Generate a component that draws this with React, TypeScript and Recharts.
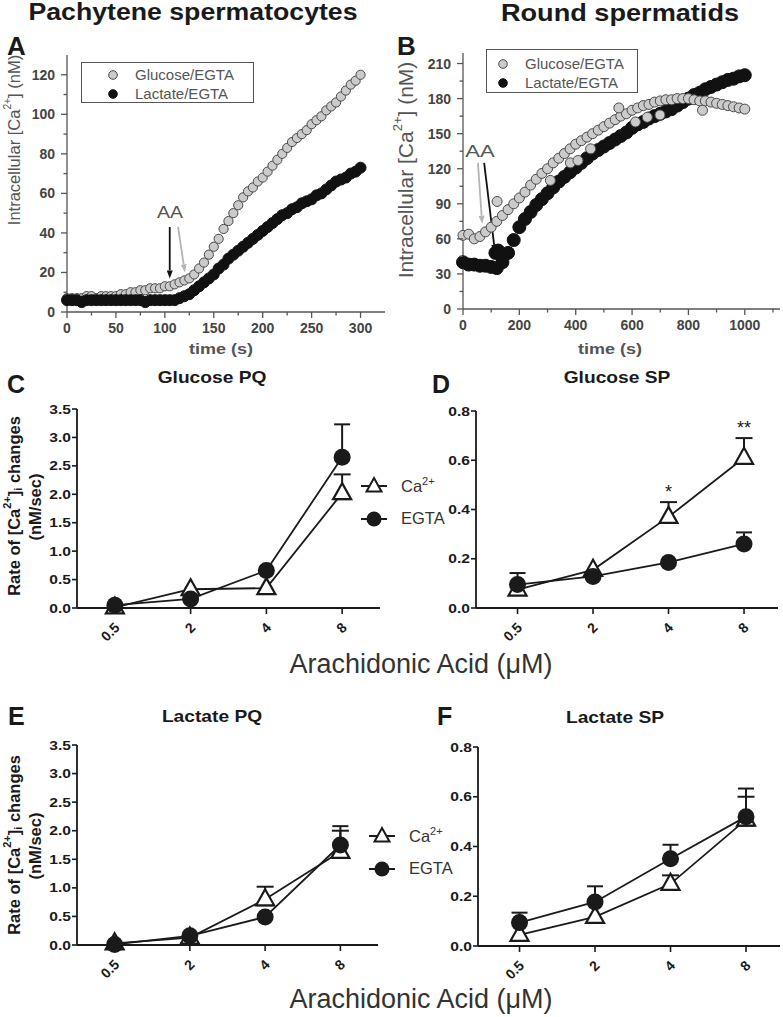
import React from 'react';
import {
  ScatterChart,
  Scatter,
  LineChart,
  Line,
  XAxis,
  YAxis,
  ErrorBar,
  ReferenceLine,
  ReferenceDot,
  Legend,
} from 'recharts';

const FONT = '"Liberation Sans", Arial, Helvetica, sans-serif';
const GRAY = '#555';
const INK = '#1a1a1a';

// ---- A: pachytene spermatocytes, [Ca2+]i time course (one reading every 5 s)
const timeA = [
  0, 5, 10, 15, 20, 25, 30, 35, 40, 45,
  50, 55, 60, 65, 70, 75, 80, 85, 90, 95,
  100, 105, 110, 115, 120, 125, 130, 135, 140, 145,
  150, 155, 160, 165, 170, 175, 180, 185, 190, 195,
  200, 205, 210, 215, 220, 225, 230, 235, 240, 245,
  250, 255, 260, 265, 270, 275, 280, 285, 290, 295,
  300,
];
const glucoseA = [
  7, 7, 7, 7, 8, 8, 7, 8, 8, 8,
  8, 9, 9, 10, 10, 11, 11, 12, 12, 12,
  13, 13, 14, 15, 16, 17, 19, 22, 25, 29,
  33, 37, 42, 46, 50, 54, 58, 61, 63, 66,
  68, 71, 74, 77, 80, 83, 86, 88, 90, 92,
  95, 97, 99, 102, 104, 106, 109, 112, 115, 117,
  120,
];
const lactateA = [
  6, 6, 6, 5, 6, 6, 6, 6, 6, 6,
  6, 6, 6, 6, 6, 6, 5, 6, 6, 6,
  6, 6, 6, 7, 8, 9, 11, 13, 15, 17,
  19, 22, 24, 27, 29, 31, 33, 35, 37, 39,
  41, 43, 45, 47, 49, 50, 52, 53, 55, 56,
  57, 59, 60, 62, 64, 66, 67, 68, 70, 71,
  73,
];
const xTicksA = [0, 25, 50, 75, 100, 125, 150, 175, 200, 225, 250, 275, 300];
const yTicksA = [0, 10, 20, 30, 40, 50, 60, 70, 80, 90, 100, 110, 120];
// AA application arrows (time s, nM)
const arrowsA = [
  { from: [105, 43], to: [105, 17], color: '#111' },
  { from: [113.5, 43], to: [120.5, 20], color: '#b5b5b5' },
];

// ---- B: round spermatids (one reading every 20 s)
const timeB = [
  0, 20, 40, 60, 80, 100, 120, 140, 160, 180,
  200, 220, 240, 260, 280, 300, 320, 340, 360, 380,
  400, 420, 440, 460, 480, 500, 520, 540, 560, 580,
  600, 620, 640, 660, 680, 700, 720, 740, 760, 780,
  800, 820, 840, 860, 880, 900, 920, 940, 960, 980,
  1000,
];
const glucoseB = [
  63, 64, 60, 62, 66, 70, 75, 80, 85, 90,
  95, 100, 106, 111, 116, 120, 125, 129, 133, 137,
  141, 144, 147, 150, 153, 156, 159, 162, 165, 167,
  170, 172, 174, 175, 177, 178, 179, 179, 180, 180,
  180, 179, 178, 178, 177, 176, 175, 174, 173, 172,
  171,
];
const lactateB = [
  40, 38, 38, 37, 37, 36, 35, 40, 48, 59,
  70, 77, 83, 89, 94, 99, 104, 109, 113, 117,
  121, 125, 129, 133, 136, 139, 142, 145, 148, 151,
  155, 158, 160, 163, 165, 167, 169, 171, 174, 177,
  180, 183, 185, 188, 190, 192, 194, 196, 197, 199,
  200,
];
const glucoseBStrayT = [121, 310, 381, 408, 453, 553, 612, 654, 699, 850];
const glucoseBStrayV = [92, 110, 125, 127, 137, 172, 160, 164, 166, 170];
const lactateBStrayT = [115, 125, 130];
const lactateBStrayV = [48, 50, 47];
const xTicksB = [0, 100, 200, 300, 400, 500, 600, 700, 800, 900, 1000, 1100];
const yTicksB = [0, 15, 30, 45, 60, 75, 90, 105, 120, 135, 150, 165, 180, 195, 210];
const arrowsB = [
  { from: [53, 125], to: [68, 73], color: '#b5b5b5' },
  { from: [75, 125], to: [114, 48], color: '#111' },
];

// ---- C–F: rate of [Ca2+]i change vs arachidonic acid dose
const doses = ['0.5', '2', '4', '8'];
const yTicksPQ = [0, 0.5, 1, 1.5, 2, 2.5, 3, 3.5];
const yTicksSP = [0, 0.2, 0.4, 0.6, 0.8];

const caGluPQ = [0.01, 0.33, 0.35, 2.02];
const caGluPQErr = [null, null, null, 0.33];
const egtaGluPQ = [0.05, 0.16, 0.66, 2.65];
const egtaGluPQErr = [null, null, null, 0.58];

const caGluSP = [0.075, 0.155, 0.37, 0.61];
const caGluSPErr = [null, null, 0.06, 0.08];
const egtaGluSP = [0.095, 0.128, 0.185, 0.26];
const egtaGluSPErr = [0.047, null, null, 0.047];
const sigGluSP = ['', '', '*', '**'];

const caLacPQ = [0.03, 0.13, 0.8, 1.63];
const caLacPQErr = [null, null, 0.22, 0.37];
const egtaLacPQ = [0.01, 0.16, 0.49, 1.75];
const egtaLacPQErr = [null, null, null, 0.33];

const caLacSP = [0.045, 0.117, 0.25, 0.508];
const caLacSPErr = [null, null, 0.034, 0.092];
const egtaLacSP = [0.094, 0.177, 0.351, 0.52];
const egtaLacSPErr = [0.04, 0.063, 0.056, 0.113];

type Err = number | null;

const markerStyle: Record<string, { fill: string; stroke: string }> = {
  'Glucose/EGTA': { fill: '#cbcbcb', stroke: '#4a4a4a' },
  'Lactate/EGTA': { fill: '#111', stroke: '#111' },
};

function timeXTick(labelEvery: number) {
  return (p: any) => {
    const v = p.payload.value;
    const major = v % labelEvery === 0;
    return (
      <g>
        <line x1={p.x} x2={p.x} y1={p.y} y2={p.y + (major ? 6 : 3.5)} stroke={GRAY} strokeWidth={1.3} />
        {major && (
          <text x={p.x} y={p.y + 21} textAnchor="middle" fontFamily={FONT} fontSize={14} fontWeight="bold" fill="#444">
            {v}
          </text>
        )}
      </g>
    );
  };
}

function timeYTick(labelEvery: number) {
  return (p: any) => {
    const v = p.payload.value;
    const major = v % labelEvery === 0;
    return (
      <g>
        <line x1={p.x - (major ? 6 : 3.5)} x2={p.x} y1={p.y} y2={p.y} stroke={GRAY} strokeWidth={1.3} />
        {major && (
          <text x={p.x - 12} y={p.y + 5} textAnchor="end" fontFamily={FONT} fontSize={14} fontWeight="bold" fill="#444">
            {v}
          </text>
        )}
      </g>
    );
  };
}

function arrowShape(color: string) {
  return (p: any) => {
    const { x1, y1, x2, y2 } = p;
    const ang = Math.atan2(y2 - y1, x2 - x1);
    const len = 8;
    const w = 3;
    const bx = x2 - len * Math.cos(ang);
    const by = y2 - len * Math.sin(ang);
    const px = -Math.sin(ang) * w;
    const py = Math.cos(ang) * w;
    return (
      <g>
        <line x1={x1} y1={y1} x2={bx} y2={by} stroke={color} strokeWidth={1.8} />
        <polygon points={`${x2},${y2} ${bx + px},${by + py} ${bx - px},${by - py}`} fill={color} />
      </g>
    );
  };
}

function TimeLegend({ payload, markerX, textX, padTop }: any) {
  const order = ['Glucose/EGTA', 'Lactate/EGTA'];
  const items = [...(payload ?? [])].sort((a: any, b: any) => order.indexOf(a.value) - order.indexOf(b.value));
  return (
    <div
      style={{
        border: `1.5px solid ${GRAY}`,
        boxSizing: 'border-box',
        width: '100%',
        height: '100%',
        paddingTop: padTop,
        fontFamily: FONT,
        fontSize: 15,
        color: GRAY,
      }}
    >
      {items.map((it: any) => {
        const s = markerStyle[it.value];
        return (
          <div key={it.value} style={{ position: 'relative', height: 19 }}>
            <svg width={12} height={12} style={{ position: 'absolute', left: markerX - 6, top: 3.5 }}>
              <circle cx={6} cy={6} r={4.3} fill={s.fill} stroke={s.stroke} strokeWidth={1} />
            </svg>
            <span style={{ position: 'absolute', left: textX, top: 1, lineHeight: '17px' }}>{it.value}</span>
          </div>
        );
      })}
    </div>
  );
}

interface TimePanelProps {
  width: number;
  height: number;
  margin: { top: number; right: number; bottom: number; left: number };
  yAxisWidth: number;
  xDomain: [number, number];
  xTicks: number[];
  xLabelEvery: number;
  yDomain: [number, number];
  yTicks: number[];
  yLabelEvery: number;
  back: { name: string; t: number[]; v: number[]; r: number };
  front: { name: string; t: number[]; v: number[]; r: number };
  arrows: { from: number[]; to: number[]; color: string }[];
  legendBox: { left: number; top: number; width: number; height: number; markerX: number; textX: number; padTop: number };
}

function TimePanel(p: TimePanelProps) {
  const toPoints = (t: number[], v: number[]) => t.map((tt, i) => ({ t: tt, v: v[i] }));
  const lb = p.legendBox;
  return (
    <ScatterChart width={p.width} height={p.height} margin={p.margin}>
      <XAxis
        dataKey="t"
        type="number"
        domain={p.xDomain}
        ticks={p.xTicks}
        interval={0}
        height={25}
        tickSize={0}
        tickMargin={0}
        tickLine={false}
        axisLine={{ stroke: GRAY, strokeWidth: 1.3 }}
        tick={timeXTick(p.xLabelEvery)}
      />
      <YAxis
        dataKey="v"
        type="number"
        domain={p.yDomain}
        ticks={p.yTicks}
        interval={0}
        width={p.yAxisWidth}
        tickSize={0}
        tickMargin={0}
        tickLine={false}
        axisLine={{ stroke: GRAY, strokeWidth: 1.3 }}
        tick={timeYTick(p.yLabelEvery)}
      />
      <Legend
        layout="vertical"
        align="center"
        verticalAlign="middle"
        wrapperStyle={{ position: 'absolute', left: lb.left, top: lb.top, width: lb.width, height: lb.height }}
        content={(lp: any) => <TimeLegend payload={lp.payload} markerX={lb.markerX} textX={lb.textX} padTop={lb.padTop} />}
      />
      {[p.back, p.front].map((s) => {
        const st = markerStyle[s.name];
        return (
          <Scatter
            key={s.name}
            name={s.name}
            data={toPoints(s.t, s.v)}
            fill={st.fill}
            isAnimationActive={false}
            shape={(d: any) => (
              <circle cx={d.cx} cy={d.cy} r={s.r} fill={st.fill} stroke={st.stroke} strokeWidth={1} />
            )}
          />
        );
      })}
      {p.arrows.map((a, i) => (
        <ReferenceLine
          key={i}
          segment={[
            { x: a.from[0], y: a.from[1] },
            { x: a.to[0], y: a.to[1] },
          ]}
          stroke={a.color}
          shape={arrowShape(a.color)}
        />
      ))}
    </ScatterChart>
  );
}

function triangle(cx: number, cy: number, half: number, up: number, down: number) {
  return `${cx},${cy - up} ${cx + half},${cy + down} ${cx - half},${cy + down}`;
}

function DoseLegend({ payload }: any) {
  return (
    <div style={{ fontFamily: FONT, fontSize: 16.5, color: '#333' }}>
      {(payload ?? []).map((it: any) => (
        <div key={it.dataKey} style={{ height: 33, display: 'flex', alignItems: 'center' }}>
          <svg width={28} height={20} style={{ flex: 'none' }}>
            <line x1={1} x2={27} y1={10} y2={10} stroke={INK} strokeWidth={2} />
            {it.dataKey === 'ca' ? (
              <polygon points={triangle(14, 10, 7.5, 8, 5.5)} fill="#fff" stroke={INK} strokeWidth={2} />
            ) : (
              <circle cx={14} cy={10} r={7.5} fill={INK} />
            )}
          </svg>
          <span style={{ marginLeft: 13 }}>
            {it.dataKey === 'ca' ? (
              <>
                Ca<sup style={{ fontSize: 11 }}>2+</sup>
              </>
            ) : (
              'EGTA'
            )}
          </span>
        </div>
      ))}
    </div>
  );
}

interface DoseProps {
  width: number;
  height: number;
  margin: { top: number; right: number; bottom: number; left: number };
  yAxisWidth: number;
  yMax: number;
  yTicks: number[];
  xDomain: [number, number];
  ca: number[];
  caErr: Err[];
  egta: number[];
  egtaErr: Err[];
  sig?: string[];
  legend?: { left: number; top: number };
}

function DosePanel(p: DoseProps) {
  const xAxisHeight = 40;
  const plotH = p.height - p.margin.top - p.margin.bottom - xAxisHeight;
  // lower end of the one-sided error bar sits on the triangle's base
  const triLow = (p.yMax * 6) / plotH;
  const rows = doses.map((_, i) => ({
    x: i,
    ca: p.ca[i],
    caErr: p.caErr[i] == null ? null : [triLow, p.caErr[i]],
    egta: p.egta[i],
    egtaErr: p.egtaErr[i] == null ? null : [0, p.egtaErr[i]],
  }));
  return (
    <LineChart width={p.width} height={p.height} data={rows} margin={p.margin}>
      <XAxis
        dataKey="x"
        type="number"
        domain={p.xDomain}
        ticks={[0, 1, 2, 3]}
        interval={0}
        height={xAxisHeight}
        tickSize={0}
        tickMargin={0}
        tickLine={false}
        axisLine={{ stroke: INK, strokeWidth: 1.8 }}
        tick={(t: any) => (
          <g>
            <line x1={t.x} x2={t.x} y1={t.y} y2={t.y + 6} stroke={INK} strokeWidth={1.6} />
            <text
              transform={`translate(${t.x + 2},${t.y + 17}) rotate(-45)`}
              textAnchor="end"
              dominantBaseline="central"
              fontFamily={FONT}
              fontSize={14}
              fontWeight="bold"
              fill={INK}
            >
              {doses[t.payload.value]}
            </text>
          </g>
        )}
      />
      <YAxis
        type="number"
        domain={[0, p.yMax]}
        ticks={p.yTicks}
        interval={0}
        width={p.yAxisWidth}
        tickSize={0}
        tickMargin={0}
        tickLine={false}
        axisLine={{ stroke: INK, strokeWidth: 1.8 }}
        tick={(t: any) => (
          <g>
            <line x1={t.x - 5} x2={t.x} y1={t.y} y2={t.y} stroke={INK} strokeWidth={1.6} />
            <text
              transform={`translate(${t.x - 6},${t.y + 4.5}) scale(1.2,1)`}
              textAnchor="end"
              fontFamily={FONT}
              fontSize={13}
              fontWeight="bold"
              fill={INK}
            >
              {Number(t.payload.value).toFixed(1)}
            </text>
          </g>
        )}
      />
      {p.legend && (
        <Legend
          layout="vertical"
          align="center"
          verticalAlign="middle"
          wrapperStyle={{ position: 'absolute', left: p.legend.left, top: p.legend.top, width: 100 }}
          content={(lp: any) => <DoseLegend payload={lp.payload} />}
        />
      )}
      <Line
        dataKey="ca"
        name="Ca2+"
        stroke={INK}
        strokeWidth={1.8}
        isAnimationActive={false}
        activeDot={false}
        dot={(d: any) => (
          <polygon
            key={`ca-${d.index}`}
            points={triangle(d.cx, d.cy, 9, 10, 6)}
            fill="#fff"
            stroke={INK}
            strokeWidth={2.2}
          />
        )}
      >
        <ErrorBar dataKey="caErr" direction="y" width={8.5} stroke={INK} strokeWidth={2} isAnimationActive={false} />
      </Line>
      <Line
        dataKey="egta"
        name="EGTA"
        stroke={INK}
        strokeWidth={1.8}
        isAnimationActive={false}
        activeDot={false}
        dot={(d: any) => <circle key={`eg-${d.index}`} cx={d.cx} cy={d.cy} r={8.5} fill={INK} />}
      >
        <ErrorBar dataKey="egtaErr" direction="y" width={8} stroke={INK} strokeWidth={2} isAnimationActive={false} />
      </Line>
      {(p.sig ?? []).map((s, i) =>
        s ? (
          <ReferenceDot
            key={i}
            x={i}
            y={p.ca[i] + (p.caErr[i] ?? 0)}
            r={0}
            label={{ value: s, position: 'top', offset: 4, fontSize: 18, fill: INK, fontFamily: FONT }}
          />
        ) : null,
      )}
    </LineChart>
  );
}

function Txt({ x, y, size, bold, fill = INK, anchor = 'middle', sx = 1, rotate = 0, baseline, children }: any) {
  return (
    <text
      transform={`translate(${x},${y}) rotate(${rotate}) scale(${sx},1)`}
      textAnchor={anchor}
      dominantBaseline={baseline}
      fontFamily={FONT}
      fontSize={size}
      fontWeight={bold ? 'bold' : 'normal'}
      fill={fill}
    >
      {children}
    </text>
  );
}

function RateLabel({ cy }: { cy: number }) {
  return (
    <>
      <Txt x={14} y={cy} size={16.5} bold rotate={-90} baseline="central">
        Rate of [Ca
        <tspan dy={-7} fontSize={11}>
          2+
        </tspan>
        <tspan dy={7}>]</tspan>
        <tspan dy={4} fontSize={11}>
          i
        </tspan>
        <tspan dy={-4}> changes</tspan>
      </Txt>
      <Txt x={35} y={cy + 1} size={16.5} bold rotate={-90} baseline="central">
        (nM/sec)
      </Txt>
    </>
  );
}

function CaLabel({ x, y, size }: { x: number; y: number; size: number }) {
  return (
    <Txt x={x} y={y} size={size} fill={GRAY} rotate={-90} baseline="central">
      Intracellular [Ca
      <tspan dy={-size * 0.4} fontSize={size * 0.62}>
        2+
      </tspan>
      <tspan dy={size * 0.4}>] (nM)</tspan>
    </Txt>
  );
}

export default function App() {
  const abs = (left: number, top: number): React.CSSProperties => ({ position: 'absolute', left, top });
  return (
    <div
      style={{
        position: 'absolute',
        left: 0,
        top: 0,
        width: 783,
        height: 1017,
        background: '#fff',
        overflow: 'hidden',
        fontFamily: FONT,
      }}
    >
      <div style={abs(0, 0)}>
        <TimePanel
          width={400}
          height={345}
          margin={{ top: 55, right: 15, bottom: 8, left: 0 }}
          yAxisWidth={67}
          xDomain={[0, 325]}
          xTicks={xTicksA}
          xLabelEvery={50}
          yDomain={[0, 130]}
          yTicks={yTicksA}
          yLabelEvery={20}
          back={{ name: 'Glucose/EGTA', t: timeA, v: glucoseA, r: 4.6 }}
          front={{ name: 'Lactate/EGTA', t: timeA, v: lactateA, r: 5.5 }}
          arrows={arrowsA}
          legendBox={{ left: 81, top: 62, width: 173, height: 41, markerX: 31, textX: 53, padTop: 2 }}
        />
      </div>
      <div style={abs(390, 0)}>
        <TimePanel
          width={393}
          height={345}
          margin={{ top: 53, right: 3, bottom: 11, left: 0 }}
          yAxisWidth={73}
          xDomain={[0, 1125]}
          xTicks={xTicksB}
          xLabelEvery={200}
          yDomain={[0, 219]}
          yTicks={yTicksB}
          yLabelEvery={30}
          back={{ name: 'Lactate/EGTA', t: [...timeB, ...lactateBStrayT], v: [...lactateB, ...lactateBStrayV], r: 6.5 }}
          front={{ name: 'Glucose/EGTA', t: [...timeB, ...glucoseBStrayT], v: [...glucoseB, ...glucoseBStrayV], r: 5 }}
          arrows={arrowsB}
          legendBox={{ left: 96, top: 49, width: 152, height: 44, markerX: 16, textX: 38, padTop: 4 }}
        />
      </div>
      <div style={abs(0, 390)}>
        <DosePanel
          width={460}
          height={300}
          margin={{ top: 19, right: 80, bottom: 42, left: 0 }}
          yAxisWidth={77}
          yMax={3.5}
          yTicks={yTicksPQ}
          xDomain={[-0.5, 3.5]}
          ca={caGluPQ}
          caErr={caGluPQErr}
          egta={egtaGluPQ}
          egtaErr={egtaGluPQErr}
          legend={{ left: 360, top: 79 }}
        />
      </div>
      <div style={abs(390, 390)}>
        <DosePanel
          width={393}
          height={300}
          margin={{ top: 21, right: 5, bottom: 42, left: 0 }}
          yAxisWidth={86}
          yMax={0.8}
          yTicks={yTicksSP}
          xDomain={[-0.55, 3.45]}
          ca={caGluSP}
          caErr={caGluSPErr}
          egta={egtaGluSP}
          egtaErr={egtaGluSPErr}
          sig={sigGluSP}
        />
      </div>
      <div style={abs(0, 725)}>
        <DosePanel
          width={460}
          height={300}
          margin={{ top: 20, right: 82, bottom: 40, left: 0 }}
          yAxisWidth={77}
          yMax={3.5}
          yTicks={yTicksPQ}
          xDomain={[-0.5, 3.5]}
          ca={caLacPQ}
          caErr={caLacPQErr}
          egta={egtaLacPQ}
          egtaErr={egtaLacPQErr}
          legend={{ left: 368, top: 94 }}
        />
      </div>
      <div style={abs(390, 725)}>
        <DosePanel
          width={393}
          height={300}
          margin={{ top: 22, right: 3, bottom: 39, left: 0 }}
          yAxisWidth={88}
          yMax={0.8}
          yTicks={yTicksSP}
          xDomain={[-0.55, 3.45]}
          ca={caLacSP}
          caErr={caLacSPErr}
          egta={egtaLacSP}
          egtaErr={egtaLacSPErr}
        />
      </div>

      <svg width={783} height={1017} style={{ position: 'absolute', left: 0, top: 0, pointerEvents: 'none' }}>
        <Txt x={193} y={20} size={23} bold sx={1.16}>
          Pachytene spermatocytes
        </Txt>
        <Txt x={620} y={21} size={23} bold sx={1.18}>
          Round spermatids
        </Txt>

        <Txt x={7} y={55} size={26} bold anchor="start">A</Txt>
        <Txt x={397} y={55} size={26} bold anchor="start">B</Txt>
        <Txt x={7} y={393} size={25} bold anchor="start">C</Txt>
        <Txt x={432} y={393} size={25} bold anchor="start">D</Txt>
        <Txt x={8} y={725} size={25} bold anchor="start">E</Txt>
        <Txt x={437} y={725} size={25} bold anchor="start">F</Txt>

        <CaLabel x={14} y={140} size={16.5} />
        <CaLabel x={405} y={170} size={21} />
        <Txt x={170} y={218} size={17} fill={GRAY} sx={1.15}>AA</Txt>
        <Txt x={480} y={157} size={17} fill={GRAY} sx={1.3}>AA</Txt>
        <Txt x={221} y={354} size={15} bold fill={GRAY} sx={1.2}>time (s)</Txt>
        <Txt x={610} y={354} size={15} bold fill={GRAY} sx={1.2}>time (s)</Txt>

        <Txt x={212} y={383} size={16} bold sx={1.2}>Glucose PQ</Txt>
        <Txt x={617} y={383} size={16} bold sx={1.2}>Glucose SP</Txt>
        <Txt x={212} y={722} size={16} bold sx={1.2}>Lactate PQ</Txt>
        <Txt x={615} y={723} size={16} bold sx={1.2}>Lactate SP</Txt>

        <RateLabel cy={506} />
        <RateLabel cy={845} />

        <Txt x={421} y={673} size={27} fill="#333">Arachidonic Acid (μM)</Txt>
        <Txt x={421} y={1008} size={27} fill="#333">Arachidonic Acid (μM)</Txt>
      </svg>
    </div>
  );
}
